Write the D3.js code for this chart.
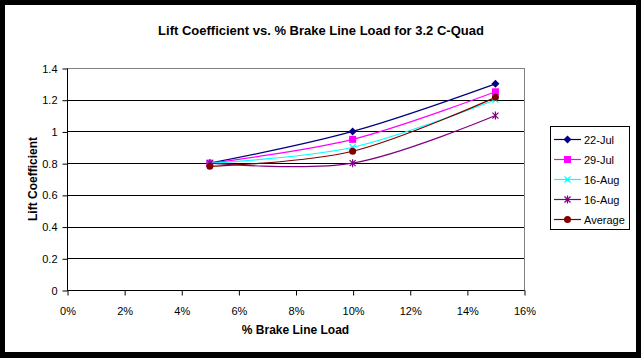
<!DOCTYPE html>
<html>
<head>
<meta charset="utf-8">
<script src="https://cdn.jsdelivr.net/npm/d3@7"></script>
<style>
  html, body { margin: 0; padding: 0; background: #000; }
  svg { display: block; }
  text { font-family: "Liberation Sans", Arial, sans-serif; fill: #000; }
</style>
</head>
<body>
<script>
const categories = [0.05, 0.10, 0.15];
const seriesNames = ["22-Jul", "29-Jul", "16-Aug", "16-Aug", "Average"];
const jul22 = [0.80, 1.00, 1.30];
const jul29 = [0.80, 0.95, 1.25];
const aug16a = [0.80, 0.90, 1.20];
const aug16b = [0.80, 0.80, 1.10];
const average = [0.78, 0.875, 1.215];
const xTicks = [0, 0.02, 0.04, 0.06, 0.08, 0.10, 0.12, 0.14, 0.16];
const yTicks = [0, 0.2, 0.4, 0.6, 0.8, 1, 1.2, 1.4];
const titleText = "Lift Coefficient vs. % Brake Line Load for 3.2 C-Quad";
const xTitle = "% Brake Line Load";
const yTitle = "Lift Coefficient";

const seriesValues = [jul22, jul29, aug16a, aug16b, average];
const colors = ["#000080", "#FF00FF", "#00FFFF", "#800080", "#800000"];
const markers = ["diamond", "square", "x", "star", "circle"];

const W = 641, H = 358;
const svg = d3.select("body").append("svg").attr("width", W).attr("height", H);

svg.append("rect").attr("x", 0).attr("y", 0).attr("width", W).attr("height", H).attr("fill", "#000");
svg.append("rect").attr("x", 5).attr("y", 5).attr("width", 631).attr("height", 347).attr("fill", "#fff");

const L = 67, R = 524, T = 68, B = 290;
const x = d3.scaleLinear().domain([0, 0.16]).range([L, R]);
const y = d3.scaleLinear().domain([0, 1.4]).range([B, T]);

// plot area border (gray)
svg.append("rect").attr("x", L + 0.5).attr("y", T + 0.5).attr("width", R - L).attr("height", B - T)
  .attr("fill", "none").attr("stroke", "#808080").attr("stroke-width", 1);

// gridlines
svg.append("g").selectAll("line").data(yTicks.filter(d => d > 0 && d < 1.4)).join("line")
  .attr("x1", L).attr("x2", R)
  .attr("y1", d => Math.round(y(d)) + 0.5).attr("y2", d => Math.round(y(d)) + 0.5)
  .attr("stroke", "#000").attr("stroke-width", 1);

// axes
const yAxis = d3.axisLeft(y).tickValues(yTicks).tickSize(5).tickPadding(5).tickFormat(d => d3.format("")(+d.toFixed(1)));
const gy = svg.append("g").attr("transform", `translate(${L + 0.5},0.5)`).call(yAxis);
gy.select(".domain").attr("stroke", "#000").attr("d", `M0,${T}V${B}`);
gy.selectAll(".tick line").attr("stroke", "#000");
gy.selectAll(".tick text").attr("font-size", 11).attr("font-family", '"Liberation Sans", Arial, sans-serif').attr("fill", "#000");

const xAxis = d3.axisBottom(x).tickValues(xTicks).tickSize(5).tickPadding(12).tickFormat(d3.format(".0%"));
const gx = svg.append("g").attr("transform", `translate(0.5,${B + 0.5})`).call(xAxis);
gx.select(".domain").attr("stroke", "#000").attr("d", `M${L},0H${R}`);
gx.selectAll(".tick line").attr("stroke", "#000");
gx.selectAll(".tick text").attr("font-size", 11).attr("font-family", '"Liberation Sans", Arial, sans-serif').attr("fill", "#000");

// lines
const line = d3.line().x(d => x(d[0])).y(d => y(d[1])).curve(d3.curveCardinal.tension(0));

function drawMarker(g, type, cx, cy, color) {
  if (type === "diamond") {
    g.append("path").attr("d", `M${cx},${cy - 4}L${cx + 4},${cy}L${cx},${cy + 4}L${cx - 4},${cy}Z`).attr("fill", color);
  } else if (type === "square") {
    g.append("rect").attr("x", cx - 3.5).attr("y", cy - 3.5).attr("width", 7).attr("height", 7).attr("fill", color);
  } else if (type === "circle") {
    g.append("circle").attr("cx", cx).attr("cy", cy).attr("r", 3.5).attr("fill", color);
  } else if (type === "x") {
    g.append("path").attr("d", `M${cx - 3},${cy - 3}L${cx + 3},${cy + 3}M${cx + 3},${cy - 3}L${cx - 3},${cy + 3}`)
      .attr("stroke", color).attr("stroke-width", 1.2).attr("fill", "none");
  } else if (type === "star") {
    g.append("path").attr("d", `M${cx - 3},${cy - 3}L${cx + 3},${cy + 3}M${cx + 3},${cy - 3}L${cx - 3},${cy + 3}M${cx},${cy - 4}L${cx},${cy + 4}`)
      .attr("stroke", color).attr("stroke-width", 1.2).attr("fill", "none");
  }
}

seriesValues.forEach((vals, i) => {
  const pts = categories.map((c, j) => [c, vals[j]]);
  const g = svg.append("g");
  g.append("path").attr("d", line(pts)).attr("fill", "none").attr("stroke", colors[i]).attr("stroke-width", 1.2);
  pts.forEach(p => drawMarker(g, markers[i], x(p[0]), y(p[1]), colors[i]));
});

// title
svg.append("text").attr("x", 321).attr("y", 35).attr("text-anchor", "middle")
  .attr("font-size", 13).attr("font-weight", "bold").text(titleText);
svg.append("text").attr("x", (L + R) / 2).attr("y", 334).attr("text-anchor", "middle")
  .attr("font-size", 12).attr("font-weight", "bold").text(xTitle);
svg.append("text").attr("transform", `translate(37,${(T + B) / 2}) rotate(-90)`).attr("text-anchor", "middle")
  .attr("font-size", 12).attr("font-weight", "bold").text(yTitle);

// legend
const lg = svg.append("g");
lg.append("rect").attr("x", 550.5).attr("y", 126.5).attr("width", 79).attr("height", 103)
  .attr("fill", "#fff").attr("stroke", "#000").attr("stroke-width", 1);
seriesNames.forEach((name, i) => {
  const ly = 139.5 + i * 20;
  lg.append("line").attr("x1", 554).attr("x2", 581).attr("y1", ly).attr("y2", ly)
    .attr("stroke", colors[i]).attr("stroke-width", 1.2);
  drawMarker(lg, markers[i], 567.5, ly, colors[i]);
  lg.append("text").attr("x", 584).attr("y", ly + 4).attr("font-size", 11).text(name);
});
</script>
</body>
</html>
